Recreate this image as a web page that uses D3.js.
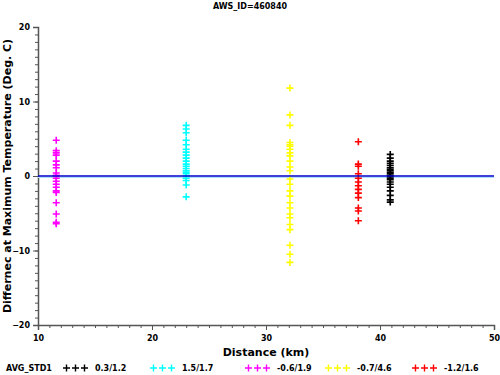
<!DOCTYPE html>
<html>
<head>
<meta charset="utf-8">
<script src="https://cdn.jsdelivr.net/npm/d3@7"></script>
<style>
  body { margin: 0; background: #fff; }
  text { font-family: "DejaVu Sans", Arial, sans-serif; font-weight: bold; }
</style>
</head>
<body>
<div id="chart"></div>
<script>
// station distances (km) and the differences
const title = "AWS_ID=460840";
const legendTitle = "AVG_STD1";
const stationLabels = ["0.3/1.2", "1.5/1.7", "-0.6/1.9", "-0.7/4.6", "-1.2/1.6"];
const stationColors = ["#000000", "#00ffff", "#ff00ff", "#ffff00", "#ff0000"];
const stationDistance = [40.9, 23.0, 11.6, 32.1, 38.1];

const blackVals = [2.9, 2.4, 2.0, 1.7, 1.4, 1.1, 0.9, 0.7, 0.5, 0.3, 0.1, -0.1, -0.3, -0.5, -0.8, -1.1, -1.5, -2.0, -2.6, -3.2, -3.5];
const cyanVals = [6.8, 6.3, 5.8, 4.8, 4.2, 3.6, 3.2, 2.8, 2.4, 2.0, 1.6, 1.3, 1.0, 0.7, 0.5, 0.3, 0.0, -0.3, -0.6, -1.2, -2.8];
const magentaVals = [4.8, 3.4, 3.1, 2.8, 2.0, 1.5, 1.1, 0.4, 0.1, 0, -0.3, -0.7, -1.1, -1.5, -2.0, -2.2, -3.6, -5.1, -6.2, -6.4];
const yellowVals = [11.8, 8.2, 6.8, 4.5, 4.2, 4.0, 3.6, 3.1, 2.7, 2.0, 1.2, 0.7, -0.4, -1.1, -2.0, -2.7, -3.6, -4.3, -5.1, -5.6, -6.5, -7.2, -9.3, -10.5, -11.6];
const redVals = [4.6, 1.6, 1.3, 0.3, -0.3, -0.8, -1.3, -1.8, -2.3, -2.9, -4.3, -4.7, -6.0];
const stationValues = [blackVals, cyanVals, magentaVals, yellowVals, redVals];

const xTicks = [10, 20, 30, 40, 50];
const yTicks = [-20, -10, 0, 10, 20];

const width = 500, height = 375;
const margin = { top: 27, right: 6, bottom: 50, left: 38 };

const x = d3.scaleLinear().domain([10, 50]).range([margin.left, width - margin.right]);
const y = d3.scaleLinear().domain([-20, 20]).range([height - margin.bottom, margin.top]);

const svg = d3.select("#chart").append("svg")
    .attr("width", width)
    .attr("height", height);

svg.append("text")
    .attr("x", 250).attr("y", 9)
    .attr("text-anchor", "middle")
    .attr("font-size", 8)
    .text(title);

// minor ticks
svg.append("g")
    .attr("transform", `translate(0,${y(-20)})`)
    .call(d3.axisBottom(x).tickValues(d3.range(10, 51, 1)).tickSize(3).tickFormat(""))
    .call(g => g.select(".domain").remove())
    .selectAll("line").attr("stroke", "#555");
svg.append("g")
    .attr("transform", `translate(${x(10)},0)`)
    .call(d3.axisLeft(y).tickValues(d3.range(-20, 21, 1)).tickSize(3).tickFormat(""))
    .call(g => g.select(".domain").remove())
    .selectAll("line").attr("stroke", "#555");

// major axes
svg.append("g")
    .attr("transform", `translate(0,${y(-20)})`)
    .call(d3.axisBottom(x).tickValues(xTicks).tickSize(5).tickPadding(5))
    .call(g => g.select(".domain").attr("stroke", "#555").attr("stroke-width", 1.5))
    .call(g => g.selectAll("line").attr("stroke", "#555"))
    .call(g => g.selectAll("text").attr("font-size", 8).attr("font-family", "DejaVu Sans").attr("font-weight", "bold"));

svg.append("g")
    .attr("transform", `translate(${x(10)},0)`)
    .call(d3.axisLeft(y).tickValues(yTicks).tickSize(5).tickPadding(3))
    .call(g => g.select(".domain").attr("stroke", "#555").attr("stroke-width", 1.5))
    .call(g => g.selectAll("line").attr("stroke", "#555"))
    .call(g => g.selectAll("text").attr("font-size", 8).attr("font-family", "DejaVu Sans").attr("font-weight", "bold"));

svg.append("text")
    .attr("transform", `translate(11,${y(0)}) rotate(-90)`)
    .attr("text-anchor", "middle")
    .attr("font-size", 11)
    .text("Differnec at Maximum Temperature (Deg. C)");

svg.append("text")
    .attr("x", x(30)).attr("y", 356)
    .attr("text-anchor", "middle")
    .attr("font-size", 11)
    .text("Distance (km)");

// zero line
svg.append("line")
    .attr("x1", x(10)).attr("x2", x(50))
    .attr("y1", y(0) + 1.5).attr("y2", y(0) + 1.5)
    .attr("stroke", "#aadfff").attr("stroke-width", 1);

const plus = "M-3.5,0H3.5M0,-3.5V3.5";
stationValues.forEach((vals, i) => {
    svg.append("g")
        .attr("stroke", stationColors[i])
        .attr("stroke-width", 1.6)
        .attr("fill", "none")
        .selectAll("path")
        .data(vals)
        .join("path")
        .attr("d", plus)
        .attr("transform", d => `translate(${x(stationDistance[i])},${y(d)})`);
});

svg.append("line")
    .attr("x1", x(10)).attr("x2", x(50))
    .attr("y1", y(0)).attr("y2", y(0))
    .attr("stroke", "#0000cc").attr("stroke-width", 1.6);

// legend
const legendY = 368;
svg.append("text")
    .attr("x", 6).attr("y", legendY + 3)
    .attr("font-size", 8)
    .text(legendTitle);

const legendX = [63, 150, 245, 325, 412];
stationLabels.forEach((label, i) => {
    const g = svg.append("g").attr("transform", `translate(${legendX[i]},${legendY})`);
    [0, 1, 2].forEach(k => {
        g.append("path")
            .attr("d", plus)
            .attr("transform", `translate(${3.5 + k * 9},0)`)
            .attr("stroke", stationColors[i])
            .attr("stroke-width", 1.4)
            .attr("fill", "none");
    });
    g.append("text")
        .attr("x", 32).attr("y", 3)
        .attr("font-size", 8)
        .text(label);
});
</script>
</body>
</html>
